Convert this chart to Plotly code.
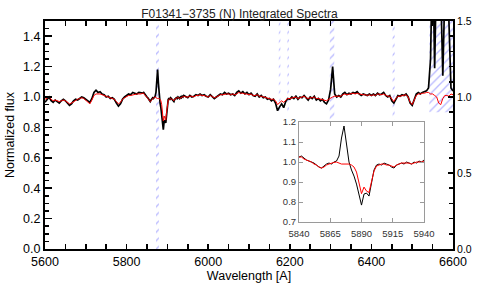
import numpy as np
import plotly.graph_objects as go

# ---------------- data ----------------
# wavelength grid (Angstrom): coarse outside the inset window, finer inside it
WAVE_BLUE = list(range(5600, 5840, 5))      # 48 points
WAVE_INSET = list(range(5840, 5942, 2))     # 51 points
WAVE_RED = list(range(5945, 6605, 5))       # 132 points

OBS_BLUE = [
    0.965, 0.98, 1.00, 0.975, 0.965, 0.98, 0.97, 0.96, 0.975, 0.985,
    0.975, 0.96, 0.945, 0.955, 0.975, 0.985, 0.98, 0.99, 1.0, 0.995,
    0.985, 0.975, 0.965, 0.99, 1.03, 1.045, 1.03, 1.035, 1.02, 1.015,
    1.0, 1.005, 0.99, 0.995, 0.985, 0.96, 0.94, 0.955, 0.985, 1.0,
    1.01, 1.02, 1.015, 1.03, 1.025, 1.02, 1.03, 1.025,
]
OBS_INSET = [
    1.025, 1.03, 1.02, 1.01, 1.005, 1.0, 0.995, 0.985, 0.975, 0.97,
    0.98, 0.99, 0.995, 0.99, 1.0, 1.005, 1.03, 1.12, 1.18, 1.09,
    1.0, 0.96, 0.93, 0.89, 0.83, 0.785, 0.84, 0.845, 0.83, 0.89,
    0.96, 0.985, 0.99, 0.985, 0.995, 0.99, 0.985, 0.975, 0.97, 0.985,
    0.99, 0.995, 0.99, 1.0, 0.995, 0.99, 1.0, 0.995, 1.005, 1.0,
    1.01,
]
OBS_RED = [
    1.0, 0.995, 1.01, 1.0, 1.005, 1.015, 1.01, 1.02, 1.01, 1.015,
    1.005, 1.0, 1.015, 1.005, 0.99, 1.0, 1.01, 1.02, 1.015, 1.03,
    1.02, 1.025, 1.015, 1.02, 1.01, 1.03, 1.04, 1.025, 1.035, 1.02,
    1.03, 1.015, 1.025, 1.01, 1.005, 1.02, 1.0, 1.01, 0.995, 1.0,
    0.985, 0.99, 0.975, 0.985, 0.96, 0.91, 0.935, 0.955, 0.93, 0.97,
    0.99, 0.985, 1.0, 0.99, 1.005, 0.985, 1.0, 0.995, 1.01, 0.995,
    0.98, 1.0, 0.99, 1.005, 0.98, 0.99, 0.975, 0.985, 0.965, 0.955,
    0.98, 1.05, 1.2, 1.02, 1.0, 1.01, 1.0, 1.02, 1.03, 1.015,
    1.025, 1.02, 1.03, 1.025, 1.035, 1.02, 1.01, 1.02, 1.015, 1.01,
    1.02, 1.01, 1.02, 1.01, 1.025, 1.015, 1.02, 1.03, 1.01, 1.0,
    1.01, 0.975, 0.96, 0.99, 1.01, 1.005, 1.015, 1.01, 1.02, 1.0,
    0.96, 0.945, 0.99, 1.02, 1.03, 1.02, 1.03, 1.035, 1.04, 1.06,
    1.25, 2.0, 1.19, 1.9, 2.0, 1.7, 1.14, 1.7, 2.0, 1.5,
    1.06, 1.04,
]

MOD_BLUE = [
    0.985, 0.99, 1.0, 0.985, 0.975, 0.98, 0.975, 0.97, 0.975, 0.98,
    0.975, 0.965, 0.955, 0.96, 0.97, 0.98, 0.985, 0.99, 0.995, 0.99,
    0.98, 0.965, 0.955, 0.98, 1.01, 1.02, 1.02, 1.02, 1.015, 1.01,
    1.0, 1.0, 0.995, 0.99, 0.985, 0.97, 0.955, 0.965, 0.985, 0.995,
    1.005, 1.01, 1.01, 1.015, 1.02, 1.02, 1.02, 1.02,
]
MOD_INSET = [
    1.025, 1.025, 1.015, 1.01, 1.005, 1.0, 0.99, 0.985, 0.975, 0.97,
    0.975, 0.985, 0.99, 0.995, 0.998, 1.0, 0.995, 0.99, 0.99, 0.99,
    0.99, 0.985, 0.975, 0.95, 0.9, 0.842, 0.875, 0.855, 0.848, 0.9,
    0.955, 0.98, 0.985, 0.99, 0.99, 0.985, 0.985, 0.98, 0.975, 0.985,
    0.99, 0.995, 0.995, 0.995, 0.995, 0.99, 0.995, 1.0, 1.0, 1.0,
    1.005,
]
MOD_RED = [
    1.0, 1.0, 1.005, 1.005, 1.0, 1.01, 1.01, 1.015, 1.01, 1.01,
    1.005, 1.0, 1.01, 1.005, 0.995, 1.0, 1.01, 1.015, 1.015, 1.02,
    1.02, 1.02, 1.015, 1.02, 1.015, 1.02, 1.03, 1.025, 1.025, 1.02,
    1.02, 1.015, 1.02, 1.01, 1.01, 1.015, 1.005, 1.005, 1.0, 0.995,
    0.99, 0.99, 0.985, 0.985, 0.975, 0.95, 0.96, 0.975, 0.965, 0.98,
    0.99, 0.99, 0.995, 0.995, 1.0, 0.99, 0.995, 1.0, 1.005, 0.995,
    0.99, 0.995, 0.995, 1.0, 0.99, 0.99, 0.985, 0.985, 0.98, 0.975,
    0.985, 0.995, 1.0, 1.005, 1.005, 1.005, 1.005, 1.015, 1.02, 1.015,
    1.02, 1.02, 1.025, 1.02, 1.025, 1.02, 1.015, 1.015, 1.015, 1.01,
    1.015, 1.01, 1.015, 1.01, 1.02, 1.015, 1.015, 1.02, 1.01, 1.005,
    1.005, 0.985, 0.97, 0.99, 1.005, 1.005, 1.01, 1.01, 1.015, 1.0,
    0.965, 0.95, 0.985, 1.01, 1.02, 1.02, 1.025, 1.025, 1.03, 1.03,
    1.02, 1.02, 1.01, 1.0, 0.96, 0.95, 0.99, 1.01, 1.01, 1.005,
    1.02, 1.015,
]

# masked (hatched) wavelength windows
MASK_START = [5872, 6173, 6194, 6298, 6452, 6542]
MASK_END = [5879, 6177, 6198, 6309, 6457, 6600]
MASK_LOW = [0.0, 0.9, 0.9, 0.85, 0.85, 0.9]
MASK_HIGH = [1.5, 1.5, 1.5, 1.5, 1.5, 1.5]

TITLE = "F01341\u22123735 (N) Integrated Spectra"

wave = np.array(WAVE_BLUE + WAVE_INSET + WAVE_RED, dtype=float)
obs = np.array(OBS_BLUE + OBS_INSET + OBS_RED)
mod = np.array(MOD_BLUE + MOD_INSET + MOD_RED)
assert len(wave) == len(obs) == len(mod)

FONT = "Liberation Sans, Arial, Helvetica, sans-serif"
HATCH = "#6f6fff"

fig = go.Figure()

for x0, x1, y0, y1 in zip(MASK_START, MASK_END, MASK_LOW, MASK_HIGH):
    fig.add_trace(go.Scatter(
        x=[x0, x1, x1, x0, x0], y=[y0, y0, y1, y1, y0],
        mode="lines", line=dict(width=0), fill="toself",
        fillcolor="rgba(0,0,0,0)",
        fillpattern=dict(shape="/", fgcolor=HATCH, bgcolor="rgba(0,0,0,0)",
                         size=6, solidity=0.22),
        xaxis="x", yaxis="y", hoverinfo="skip", showlegend=False,
    ))

fig.add_trace(go.Scatter(x=wave, y=obs, mode="lines",
                         line=dict(color="black", width=1.7),
                         xaxis="x", yaxis="y", showlegend=False))
fig.add_trace(go.Scatter(x=wave, y=mod, mode="lines",
                         line=dict(color="#ff0000", width=1.0),
                         xaxis="x", yaxis="y", showlegend=False))

# inset
fig.add_trace(go.Scatter(x=wave, y=obs, mode="lines",
                         line=dict(color="black", width=1.0),
                         xaxis="x2", yaxis="y2", showlegend=False))
fig.add_trace(go.Scatter(x=wave, y=mod, mode="lines",
                         line=dict(color="#ff0000", width=1.0),
                         xaxis="x2", yaxis="y2", showlegend=False))

main_axis = dict(showline=True, linecolor="black", linewidth=2,
                 ticks="inside", tickcolor="black", tickwidth=1.5,
                 showgrid=False, zeroline=False, automargin=False,
                 tickfont=dict(family=FONT, size=12.5, color="black"))

fig.update_layout(
    width=479, height=284,
    margin=dict(l=45, r=26, t=21, b=35),
    paper_bgcolor="white", plot_bgcolor="white",
    font=dict(family=FONT, color="black"),
    title=dict(text=TITLE, x=0.5, xanchor="center", y=0.953, yanchor="middle",
               font=dict(family=FONT, size=12, color="#222")),
    xaxis=dict(main_axis, range=[5600, 6600], dtick=200, tick0=5600,
               ticklen=5, mirror="allticks",
               minor=dict(dtick=50, ticklen=3, ticks="inside", tickcolor="black", tickwidth=1.5),
               title=dict(text="Wavelength [A]", standoff=2,
                          font=dict(family=FONT, size=12.5, color="black"))),
    yaxis=dict(main_axis, range=[0, 1.5], dtick=0.2, tick0=0, tickformat=".1f",
               ticklen=7,
               minor=dict(dtick=0.05, ticklen=4, ticks="inside", tickcolor="black", tickwidth=1.5),
               title=dict(text="Normalized flux", standoff=6,
                          font=dict(family=FONT, size=12.5, color="black"))),
    yaxis3=dict(main_axis, overlaying="y", anchor="x", side="right",
                range=[0, 1.5], tickvals=[0, 0.5, 1.0, 1.5], tickformat=".1f",
                ticklen=5,
                minor=dict(dtick=0.1, ticklen=4, ticks="inside", tickcolor="black", tickwidth=1.5),
                tickfont=dict(family=FONT, size=10.5, color="black")),
    xaxis2=dict(domain=[0.6225, 0.929], anchor="y2", range=[5840, 5940],
                tickvals=[5840, 5865, 5890, 5915, 5940], automargin=False,
                ticklabelstandoff=3,
                showline=True, linecolor="#9a9a9a", linewidth=1, mirror="ticks",
                ticks="inside", ticklen=4, tickcolor="#9a9a9a",
                showgrid=False, zeroline=False,
                tickfont=dict(family=FONT, size=9.5, color="#333")),
    yaxis2=dict(domain=[0.118, 0.557], anchor="x2", range=[0.7, 1.2],
                dtick=0.1, tick0=0.7, tickformat=".1f", automargin=False,
                showline=True, linecolor="#9a9a9a", linewidth=1, mirror="ticks",
                ticks="inside", ticklen=4, tickcolor="#9a9a9a",
                showgrid=False, zeroline=False,
                tickfont=dict(family=FONT, size=9.5, color="#333")),
)

# right-hand axis needs a trace to display; attach an invisible one
fig.add_trace(go.Scatter(x=[5600], y=[0], mode="markers", marker=dict(opacity=0),
                         xaxis="x", yaxis="y3", hoverinfo="skip", showlegend=False))

fig.write_html("out.html",
               config={"displayModeBar": False, "staticPlot": True},
               post_script="document.body.style.margin='0px';"
                           "document.body.style.overflow='hidden';")
